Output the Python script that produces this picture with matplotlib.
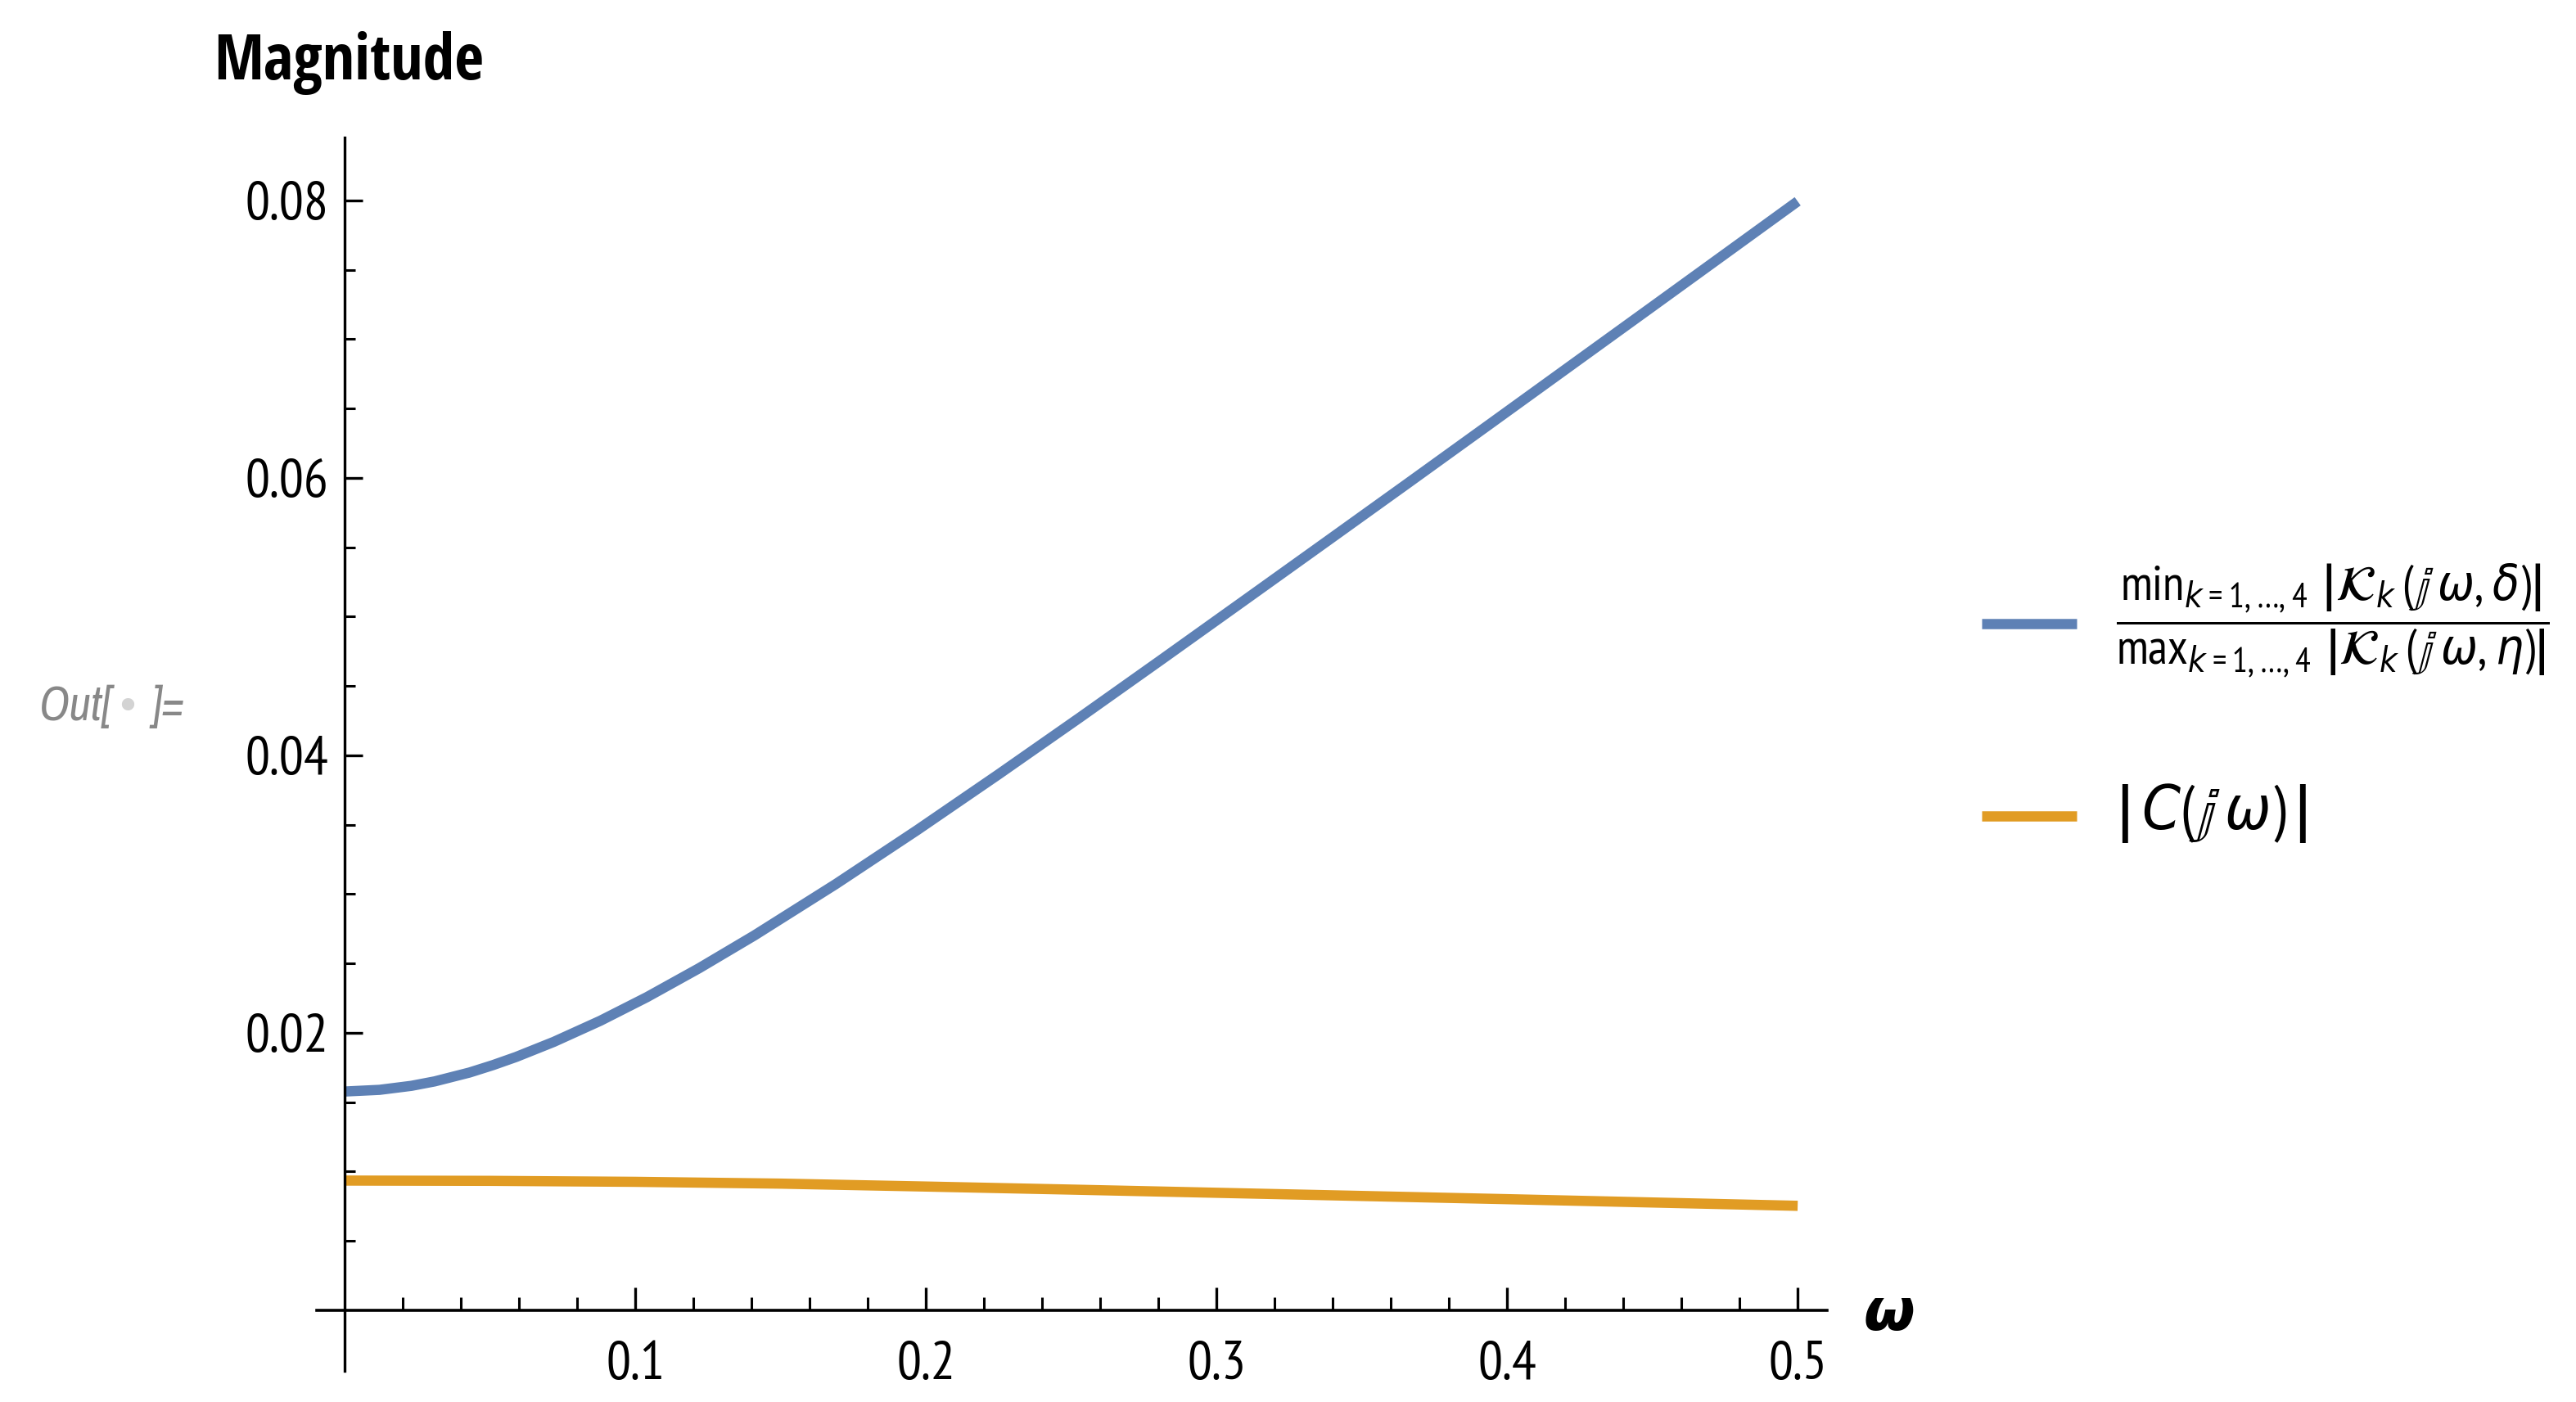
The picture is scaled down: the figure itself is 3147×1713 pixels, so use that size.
import matplotlib
matplotlib.use("Agg")
import numpy as np
import matplotlib.pyplot as plt

plt.rcParams['font.family'] = ['PT Sans Narrow', 'DejaVu Sans']
# узкий шрифт для формул в легенде, недостающие знаки берутся из STIX
plt.rcParams['mathtext.fontset'] = 'custom'
plt.rcParams['mathtext.rm'] = 'PT Sans Narrow'
plt.rcParams['mathtext.it'] = 'DejaVu Sans:style=italic:stretch=condensed'
plt.rcParams['mathtext.cal'] = 'STIXSizeOneSym'
plt.rcParams['mathtext.fallback'] = 'stixsans'

# Значения
omega_ratio = [0.0, 0.012, 0.023, 0.031, 0.043, 0.051, 0.059, 0.072, 0.088, 0.104,
               0.122, 0.141, 0.169, 0.197, 0.225, 0.253, 0.281, 0.310, 0.338, 0.366,
               0.394, 0.422, 0.450, 0.479, 0.500]
ratio_vals = [0.01577, 0.01589, 0.01618, 0.01650, 0.01714, 0.01767, 0.01826, 0.01935,
              0.02087, 0.02257, 0.02466, 0.02702, 0.03072, 0.03461, 0.03863, 0.04273,
              0.04689, 0.05123, 0.05543, 0.05964, 0.06387, 0.06811, 0.07235, 0.07675,
              0.07994]

omega_c = [0.0, 0.05, 0.10, 0.15, 0.20, 0.25, 0.30, 0.35, 0.40, 0.45, 0.50]
c_vals = [0.00935, 0.00933, 0.00926, 0.00913, 0.00892, 0.00870, 0.00847, 0.00824,
          0.00801, 0.00777, 0.00753]

x_major = [0.1, 0.2, 0.3, 0.4, 0.5]
x_minor = [v / 100 for v in range(2, 50, 2) if v % 10 != 0]
y_major = [0.02, 0.04, 0.06, 0.08]
y_minor = [v / 1000 for v in range(5, 80, 5) if v % 20 != 0]

label_ratio = (r'$\dfrac{\mathrm{min}_{k=1,\ldots,4}\ \left|\mathcal{K}_k\,(\mathbb{j}\,\omega,\delta)\right|}'
               r'{\mathrm{max}_{k=1,\ldots,4}\ \left|\mathcal{K}_k\,(\mathbb{j}\,\omega,\eta)\right|}$')
label_c = r'$\left|\,C(\mathbb{j}\,\omega)\,\right|$'

blue = '#5E81B5'
orange = '#E19C24'

W, H = 3147, 1713
fig = plt.figure(figsize=(W / 100, H / 100), dpi=100)
ax = fig.add_axes([387 / W, 1 - 1675 / H, (2232 - 387) / W, (1675 - 168) / H])

l1, = ax.plot(omega_ratio, ratio_vals, color=blue, lw=9, solid_capstyle='butt',
              solid_joinstyle='round')
l2, = ax.plot(omega_c, c_vals, color=orange, lw=9, solid_capstyle='butt',
              solid_joinstyle='round')

ax.set_xlim(-0.00958, 0.5101)
ax.set_ylim(-0.00437, 0.08454)

for s in ['top', 'right']:
    ax.spines[s].set_visible(False)
ax.spines['left'].set_position(('data', 0))
ax.spines['bottom'].set_position(('data', 0))
ax.spines['left'].set_linewidth(2.4)
ax.spines['bottom'].set_linewidth(2.6)

ax.set_xticks(x_major)
ax.set_xticklabels(['0.1', '0.2', '0.3', '0.4', '0.5'])
ax.set_xticks(x_minor, minor=True)
ax.set_yticks(y_major)
ax.set_yticklabels(['0.02', '0.04', '0.06', '0.08'])
ax.set_yticks(y_minor, minor=True)

ax.tick_params(axis='x', which='major', direction='in', length=20, width=2.4,
               pad=27, labelsize=48)
ax.tick_params(axis='x', which='minor', direction='in', length=11.5, width=2.2)
ax.tick_params(axis='y', which='major', direction='in', length=16, width=2.4,
               pad=14, labelsize=48)
ax.tick_params(axis='y', which='minor', direction='in', length=9.5, width=2.2)

fig.text(426 / W, 1 - 97 / H, 'Magnitude', fontsize=56, fontweight='bold',
         family=['Open Sans Condensed', 'PT Sans Narrow'], ha='center', va='baseline')
fig.text(2308 / W, 1 - 1625 / H, 'ω', fontsize=52, fontweight='bold', style='italic',
         family='DejaVu Sans', ha='center', va='baseline')

fig.text(48 / W, 1 - 880 / H, 'Out[', fontsize=42, style='italic', family='Archivo Narrow',
         color='#888888', ha='left', va='baseline')
fig.text(156 / W, 1 - 865 / H, '•', fontsize=38, family='DejaVu Sans', color='#d3d3d3',
         ha='center', va='center')
fig.text(184 / W, 1 - 880 / H, ']=', fontsize=42, style='italic', family='Archivo Narrow',
         color='#888888', ha='left', va='baseline')

leg = ax.legend([l1, l2], [label_ratio, label_c], loc='upper left',
                bbox_to_anchor=(2421 / W, 1 - 686 / H), bbox_transform=fig.transFigure,
                frameon=False, borderpad=0, borderaxespad=0, fontsize=32,
                handlelength=2.6, handletextpad=1.1, labelspacing=2.8)
leg.get_texts()[0].set_fontsize(43)
leg.get_texts()[1].set_fontsize(54)

fig.savefig('out.png', dpi=100)
